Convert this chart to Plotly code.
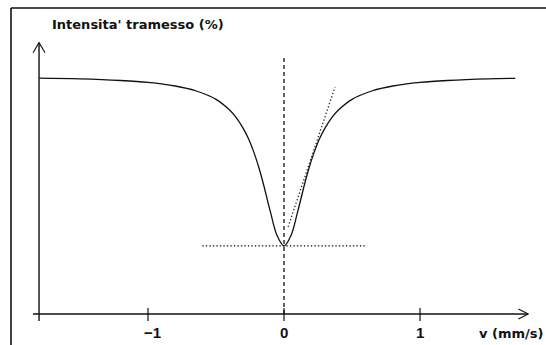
import plotly.graph_objects as go

# Mössbauer absorption line: transmitted intensity vs source velocity
velocity = [-1.80, -1.50, -1.20, -1.00, -0.80, -0.65, -0.50, -0.40, -0.35, -0.30,
            -0.26, -0.22, -0.18, -0.15, -0.10, -0.05, 0.00, 0.05, 0.10, 0.15,
            0.18, 0.22, 0.26, 0.30, 0.35, 0.40, 0.50, 0.65, 0.80, 1.00, 1.20,
            1.50, 1.70]
transmission = [99.1, 98.8, 98.1, 97.3, 95.8, 93.8, 90.2, 85.7, 82.4, 78.0,
                73.5, 67.7, 60.6, 54.3, 42.9, 32.8, 28.6, 32.8, 42.9, 54.3,
                60.6, 67.7, 73.5, 78.0, 82.4, 85.7, 90.2, 93.8, 95.8, 97.3, 98.1,
                98.8, 99.0]

# reference constructions
minimum_line_v = [-0.60, 0.60]
minimum_line_t = [28.6, 28.6]
tangent_v = [0.03, 0.375]
tangent_t = [36.6, 95.4]
centre_line_t = [0.0, 108.0]

tick_values = [-1, 0, 1]
tick_labels = ["\u22121", "0", "1"]

# axis extents (data units)
x_axis_start, x_axis_end = -1.846, 1.796
y_axis_pos = -1.801
y_axis_start, y_axis_end = -2.94, 114.0

W, H = 546, 345
X_RANGE = [-2.088, 1.926]
Y_RANGE = [-13.03, 131.93]
px_v = (X_RANGE[1] - X_RANGE[0]) / W   # data units per pixel, horizontal
px_t = (Y_RANGE[1] - Y_RANGE[0]) / H   # data units per pixel, vertical

ink = "#111111"
fig = go.Figure()

def seg(xs, ys, width=1.4, dash="solid", color=ink):
    fig.add_trace(go.Scatter(x=xs, y=ys, mode="lines", hoverinfo="skip",
                             line=dict(color=color, width=width, dash=dash)))

# axes with open arrowheads
seg([x_axis_start, x_axis_end], [0, 0])
seg([x_axis_end - 10 * px_v, x_axis_end, x_axis_end - 10 * px_v],
    [5 * px_t, 0, -5 * px_t], width=1.1)
seg([y_axis_pos, y_axis_pos], [y_axis_start, y_axis_end])
seg([y_axis_pos - 6 * px_v, y_axis_pos, y_axis_pos + 6 * px_v],
    [y_axis_end - 10 * px_t, y_axis_end, y_axis_end - 10 * px_t], width=1.1)
for tv in tick_values:
    seg([tv, tv], [-7 * px_t, 6 * px_t], width=1.2)

# constructions
seg([0, 0], centre_line_t, width=1.3, dash="4px,3px")
seg(minimum_line_v, minimum_line_t, width=1.4, dash="1.3px,2.2px", color="#000000")
seg(tangent_v, tangent_t, width=1.3, dash="1.3px,2.2px", color="#222222")

# absorption curve
fig.add_trace(go.Scatter(x=velocity, y=transmission, mode="lines",
                         line=dict(color=ink, width=1.3, shape="spline", smoothing=1.0),
                         hoverinfo="skip"))

label_font = dict(family="DejaVu Sans", size=13, color=ink, weight="bold")
annotations = []
for tv, tl in zip(tick_values, tick_labels):
    annotations.append(dict(x=tv + (5 * px_v if tv < 0 else 0), y=-19 * px_t, text=tl,
                            showarrow=False, xanchor="center", yanchor="middle",
                            font=dict(family="Liberation Sans", size=15, color=ink, weight="bold")))
annotations.append(dict(x=545 / W, xref="paper", y=-20 * px_t, text="v (mm/s)", showarrow=False,
                        xanchor="right", yanchor="middle", font=label_font))
annotations.append(dict(x=y_axis_pos + 11 * px_v, y=y_axis_end + 18 * px_t,
                        text="Intensita' tramesso (%)", showarrow=False,
                        xanchor="left", yanchor="middle", font=label_font))

# frame along the top and left edges
shapes = [
    dict(type="line", xref="paper", yref="paper", x0=11 / W, x1=1.0,
         y0=1 - 8 / H, y1=1 - 8 / H, line=dict(color=ink, width=1.6)),
    dict(type="line", xref="paper", yref="paper", x0=11 / W, x1=11 / W,
         y0=0, y1=1 - 8 / H, line=dict(color=ink, width=1.6)),
]

fig.update_layout(
    width=W, height=H, margin=dict(l=0, r=0, t=0, b=0),
    paper_bgcolor="white", plot_bgcolor="white", showlegend=False,
    xaxis=dict(range=X_RANGE, visible=False, fixedrange=True),
    yaxis=dict(range=Y_RANGE, visible=False, fixedrange=True),
    annotations=annotations, shapes=shapes,
)

fig.write_html("out.html")
